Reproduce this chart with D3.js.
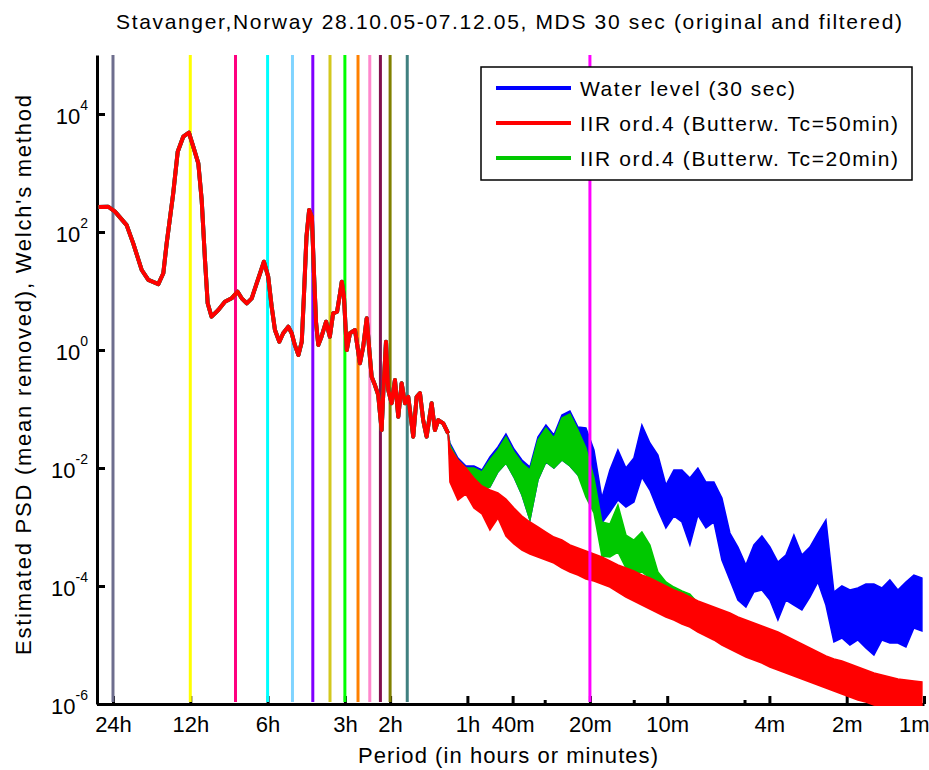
<html>
<head>
<script src="https://cdn.jsdelivr.net/npm/d3@7/dist/d3.min.js"></script>
<style>
body { margin: 0; background: #fff; }
svg { display: block; font-family: "Liberation Sans", Arial, Helvetica, sans-serif; }
.axis path, .axis line { stroke: #000; stroke-width: 3px; }
.axis text { font-size: 22px; fill: #000; font-family: "Liberation Sans", Arial, sans-serif; }
.psd { fill: none; stroke-width: 4px; stroke-linejoin: round; }
.band { stroke-width: 1.5px; stroke-linejoin: miter; }
</style>
</head>
<body>
<script>
// low frequency part, same for all three series: [period (min), PSD]
var shared = [[1640,265],[1502,268],[1414,221],[1274,131],[1201,64],[1113,22.7],[1049,15.4],[959,13.1],
    [917,20],[890,64],[839,453],[806,2296],[767,4121],[729,4819],[701,2793],[670,1459],[650,348],
    [631,33.5],[616,6.19],[595,3.67],[560,4.76],[528,6.59],[497,7.52],[471,9.73],[454,7.52],[434,6.19],
    [415,7.52],[397,13.5],[385,20],[372,31.4],[358,17.5],[347,5.42],[337,2.18],[324,1.38],[313,1.92],
    [299,2.48],[290,1.92],[282,1.22],[273,0.822],[265,1.38],[260,8.0],[254,83],[248,236],[242,182],
    [237.5,20],[233,2.84],[228.5,1.22],[222,1.68],[213,3.02],[206,1.68],[200,4.19],[193,4.46],[188,9.14],
    [185,14.4],[181.5,8.0],[177,1.0],[172,1.92],[164.4,2.18],[157.3,0.596],[152.7,1.14],[148,3.44],
    [144.6,1.0],[141.6,0.352],[137.5,0.255],[133.5,0.173],[129.5,0.044],[127.6,0.185],[124.5,1.38],
    [122,0.21],[118.4,0.125],[114.9,0.31],[111.5,0.074],[108.2,0.273],[105,0.125],[102,0.161],
    [97.5,0.034],[94.6,0.161],[91.8,0.185],[89.2,0.065],[86.5,0.034],[82.7,0.125],[80.3,0.044],
    [77.9,0.065],[74.5,0.057],[71.3,0.0387]];

// high frequency part: noisy traces given as upper / lower envelope
var tailPeriod = [70.18,65.32,60.80,56.59,52.67,49.02,45.63,42.47,39.53,36.79,34.25,31.88,29.67,27.62,
    25.71,23.93,22.27,20.73,19.29,17.96,16.72,15.56,14.48,13.48,12.55,11.68,10.87,10.12,9.419,8.767,
    8.160,7.595,7.069,6.580,6.124,5.700,5.305,4.938,4.596,4.278,3.982,3.706,3.449,3.211,2.989,2.782,
    2.589,2.410,2.243,2.088,1.943,1.809,1.684,1.567,1.459,1.358,1.264,1.176,1.095,1.019];

var blueHi = [2.652e-2,1.477e-2,1.081e-2,1.081e-2,9.24e-3,1.536e-2,2.270e-2,3.768e-2,2.099e-2,1.367e-2,
    1.040e-2,3.352e-2,5.353e-2,3.624e-2,7.908e-2,9.24e-2,4.952e-2,4.762e-2,2.019e-2,3.100e-3,
    9.24e-3,2.019e-2,1.0e-2,1.477e-2,5.353e-2,2.652e-2,1.661e-2,5.148e-3,9.24e-3,9.24e-3,
    6.765e-3,1.0e-2,5.788e-3,5.788e-3,3.100e-3,7.908e-4,4.580e-4,2.270e-4,4.952e-4,7.034e-4,
    4.580e-4,2.551e-4,3.352e-4,7.314e-4,3.352e-4,4.580e-4,7.908e-4,1.315e-3,7.908e-5,1.0e-4,
    8.549e-5,9.24e-5,1.081e-4,1.081e-4,9.24e-5,1.264e-4,8.549e-5,1.169e-4,1.536e-4,1.367e-4];
var blueLo = [1.477e-2,8.549e-3,6.258e-3,6.018e-3,4.236e-3,4.762e-3,8.549e-3,1.216e-2,7.034e-3,3.486e-3,
    1.315e-3,6.258e-3,1.264e-2,1.0e-2,1.367e-2,1.081e-2,7.605e-3,1.367e-2,6.765e-3,1.169e-3,
    1.796e-3,2.868e-3,2.183e-3,2.652e-3,7.034e-3,4.236e-3,1.942e-3,9.61e-4,1.536e-3,1.216e-3,
    4.952e-4,1.597e-3,9.61e-4,1.216e-3,2.758e-4,1.264e-4,5.788e-5,4.405e-5,7.908e-5,8.549e-5,
    5.788e-5,2.652e-5,5.788e-5,4.762e-5,3.918e-5,6.506e-5,1.169e-4,4.762e-5,1.124e-5,1.315e-5,
    1.0e-5,1.216e-5,8.889e-6,6.765e-6,1.216e-5,1.081e-5,1.081e-5,9.24e-6,1.942e-5,1.727e-5];

var greenHi = [2.454e-2,1.367e-2,1.0e-2,1.0e-2,8.549e-3,1.367e-2,2.019e-2,3.352e-2,1.867e-2,1.216e-2,
    9.24e-3,2.982e-2,4.762e-2,3.224e-2,7.034e-2,8.222e-2,4.405e-2,2.183e-2,6.765e-3,1.216e-3,
    1.124e-3,2.360e-3,7.314e-4,6.018e-4,8.222e-4,4.952e-4,1.727e-4,1.169e-4,9.61e-5,8.222e-5,
    7.314e-5,5.148e-5];
var greenLo = [1.477e-2,8.549e-3,6.258e-3,6.018e-3,4.236e-3,4.762e-3,8.549e-3,1.216e-2,7.034e-3,3.486e-3,
    1.315e-3,6.258e-3,1.264e-2,1.0e-2,1.367e-2,1.081e-2,7.605e-3,3.224e-3,1.727e-3,3.224e-4,
    3.100e-4,3.768e-4,2.019e-4,1.661e-4,1.727e-4,1.367e-4,1.081e-4,8.549e-5,7.314e-5,6.258e-5,
    5.353e-5,2.183e-5];

var redHi = [2.183e-2,1.367e-2,1.0e-2,6.765e-3,4.952e-3,4.236e-3,3.768e-3,2.982e-3,2.099e-3,1.536e-3,
    1.216e-3,1.0e-3,8.222e-4,6.765e-4,6.018e-4,4.952e-4,4.405e-4,3.918e-4,3.486e-4,3.100e-4,
    2.652e-4,2.270e-4,2.019e-4,1.796e-4,1.536e-4,1.367e-4,1.169e-4,1.0e-4,8.549e-5,7.605e-5,
    6.506e-5,5.566e-5,4.952e-5,4.405e-5,3.918e-5,3.486e-5,2.982e-5,2.652e-5,2.360e-5,2.099e-5,
    1.867e-5,1.661e-5,1.421e-5,1.216e-5,1.040e-5,8.889e-6,7.605e-6,6.506e-6,5.788e-6,5.353e-6,
    4.762e-6,4.236e-6,3.768e-6,3.352e-6,3.100e-6,2.868e-6,2.652e-6,2.551e-6,2.454e-6,2.360e-6];
var redLo = [5.788e-3,2.868e-3,3.624e-3,2.099e-3,1.661e-3,8.889e-4,1.421e-3,7.034e-4,5.148e-4,4.074e-4,
    3.486e-4,3.100e-4,2.758e-4,2.454e-4,2.019e-4,1.727e-4,1.536e-4,1.315e-4,1.216e-4,1.081e-4,
    9.61e-5,7.908e-5,6.506e-5,5.566e-5,4.762e-5,4.074e-5,3.486e-5,2.982e-5,2.652e-5,2.270e-5,
    2.019e-5,1.661e-5,1.421e-5,1.216e-5,1.0e-5,8.549e-6,7.314e-6,6.258e-6,5.566e-6,4.952e-6,
    4.236e-6,3.768e-6,3.352e-6,2.982e-6,2.652e-6,2.360e-6,2.099e-6,1.867e-6,1.661e-6,1.477e-6,
    1.315e-6,1.169e-6,1.081e-6,9.62e-7,8.89e-7,8.23e-7,7.61e-7,7.04e-7,6.51e-7,6.26e-7];

// tidal harmonics of 24h (minutes) and the filter cut-off line
var harmonicPeriods = [1440, 720, 480, 360, 288, 240, 205.7, 180, 160, 144, 130.9, 120, 102.9];
var harmonicColors = ["#6e6e8e", "#ffff00", "#ff0080", "#00ffff", "#80d4ff", "#8000ff", "#d4c81e",
    "#00ff00", "#ff8000", "#ff88cc", "#80104c", "#808000", "#408080"];
var cutoffPeriod = 20;

var xTickPeriods = [1440, 720, 360, 180, 120, 60, 40, 20, 10, 4, 2, 1];
var xTickLabels = ["24h", "12h", "6h", "3h", "2h", "1h", "40m", "20m", "10m", "4m", "2m", "1m"];
var xMinorPeriods = [30, 13.5, 5];
var yTicks = [1e-6, 1e-4, 1e-2, 1, 1e2, 1e4];

var seriesNames = ["Water level (30 sec)", "IIR ord.4 (Butterw. Tc=50min)", "IIR ord.4 (Butterw. Tc=20min)"];
var seriesColors = ["#0000ff", "#ff0000", "#00c800"];

var width = 929, height = 770;
var x = d3.scaleLog().domain([1662, 1]).range([97, 924]);
var y = d3.scaleLog().domain([1e-6, 1e5]).range([704, 55]);

var svg = d3.select("body").append("svg")
    .attr("width", width)
    .attr("height", height);

svg.append("defs").append("clipPath").attr("id", "plot")
    .append("rect").attr("x", 97).attr("y", 50).attr("width", 832).attr("height", 656);

// axes
var xAxis = svg.append("g").attr("class", "axis")
    .attr("transform", "translate(0,704)")
    .call(d3.axisBottom(x).tickValues(xTickPeriods)
        .tickFormat(function(d, i) { return xTickLabels[i]; })
        .tickSize(-8).tickSizeOuter(0).tickPadding(12));
xAxis.selectAll(".tick text").filter(function(d) { return d === 1; })
    .attr("text-anchor", "end").attr("x", 5);

svg.append("g").attr("class", "axis")
    .attr("transform", "translate(0,704)")
    .call(d3.axisBottom(x).tickValues(xMinorPeriods).tickFormat("").tickSize(-4).tickSizeOuter(0))
    .select(".domain").remove();

var yAxis = svg.append("g").attr("class", "axis")
    .attr("transform", "translate(97,0)")
    .call(d3.axisLeft(y).tickValues(yTicks).tickFormat("")
        .tickSize(-8).tickSizeOuter(0).tickPadding(9));
yAxis.selectAll(".tick text").attr("dy", "0.42em").each(function(d) {
    var t = d3.select(this);
    t.append("tspan").text("10");
    t.append("tspan").attr("dy", -14).style("font-size", "14px").text(String(Math.round(Math.log10(d))));
});

// harmonic lines behind the spectra
svg.append("g").selectAll("line")
    .data(harmonicPeriods)
    .enter().append("line")
    .attr("x1", function(d) { return x(d); })
    .attr("x2", function(d) { return x(d); })
    .attr("y1", y(1e5))
    .attr("y2", y(1e-6) - 2)
    .attr("stroke", function(d, i) { return harmonicColors[i]; })
    .attr("stroke-width", 3);

// spectra
var line = d3.line()
    .x(function(d) { return x(d[0]); })
    .y(function(d) { return y(d[1]); });

var area = d3.area()
    .x(function(d) { return x(d.p); })
    .y0(function(d) { return y(d.lo); })
    .y1(function(d) { return y(d.hi); });

function band(hi, lo) {
    var last = shared[shared.length - 1];
    var pts = [{p: last[0], hi: last[1], lo: last[1]}];
    hi.forEach(function(v, i) {
        pts.push({p: tailPeriod[i], hi: v, lo: lo[i]});
    });
    return pts;
}

var plot = svg.append("g").attr("clip-path", "url(#plot)");
var order = [[blueHi, blueLo, seriesColors[0]], [greenHi, greenLo, seriesColors[2]], [redHi, redLo, seriesColors[1]]];
order.forEach(function(s) {
    plot.append("path")
        .datum(band(s[0], s[1]))
        .attr("class", "band")
        .attr("fill", s[2])
        .attr("stroke", s[2])
        .attr("d", area);
    plot.append("path")
        .datum(shared)
        .attr("class", "psd")
        .attr("stroke", s[2])
        .attr("d", line);
});

// 20 min cut-off drawn over the spectra
svg.append("line")
    .attr("x1", x(cutoffPeriod)).attr("x2", x(cutoffPeriod))
    .attr("y1", y(1e5)).attr("y2", y(1e-6) - 2)
    .attr("stroke", "#ff00ff").attr("stroke-width", 3);

// legend
var legend = svg.append("g").attr("transform", "translate(481,67)");
legend.append("rect")
    .attr("width", 431).attr("height", 113)
    .attr("fill", "#fff").attr("stroke", "#000").attr("stroke-width", 1.5);
var legendOrder = [0, 1, 2];
var legendWidths = [215, 318, 318];
legendOrder.forEach(function(k, i) {
    legend.append("line")
        .attr("x1", 15).attr("x2", 90)
        .attr("y1", 21 + i * 35).attr("y2", 21 + i * 35)
        .attr("stroke", seriesColors[k]).attr("stroke-width", 4);
    legend.append("text")
        .attr("x", 99).attr("y", 29 + i * 35)
        .attr("font-size", 21)
        .attr("textLength", legendWidths[i]).attr("lengthAdjust", "spacing")
        .text(seriesNames[k]);
});

// title and labels
svg.append("text")
    .attr("x", 509).attr("y", 29)
    .attr("text-anchor", "middle")
    .attr("font-size", 21)
    .attr("textLength", 786).attr("lengthAdjust", "spacing")
    .text("Stavanger,Norway 28.10.05-07.12.05, MDS 30 sec (original and filtered)");

svg.append("text")
    .attr("x", 508).attr("y", 763)
    .attr("text-anchor", "middle")
    .attr("font-size", 22)
    .attr("textLength", 300).attr("lengthAdjust", "spacing")
    .text("Period (in hours or minutes)");

svg.append("text")
    .attr("transform", "translate(31,375) rotate(-90)")
    .attr("text-anchor", "middle")
    .attr("font-size", 22)
    .attr("textLength", 560).attr("lengthAdjust", "spacing")
    .text("Estimated PSD (mean removed), Welch's method");
</script>
</body>
</html>
